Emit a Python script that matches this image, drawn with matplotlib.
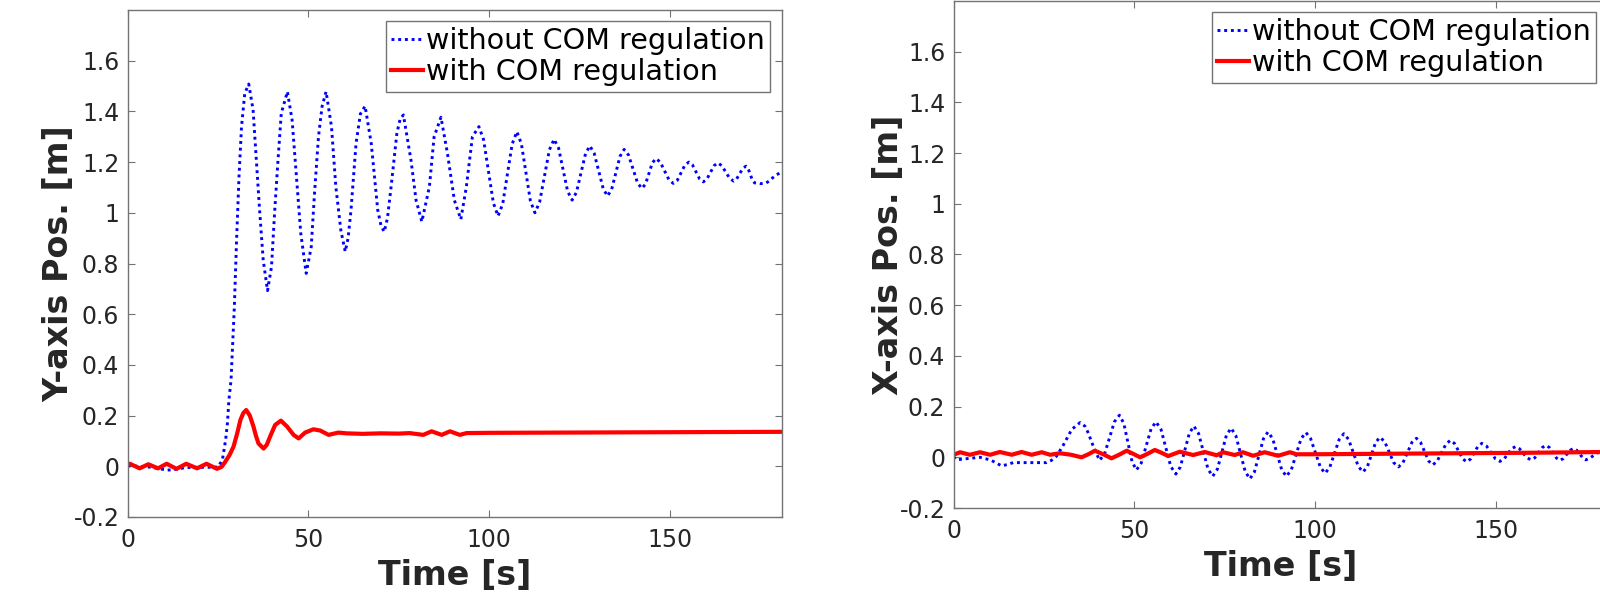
import matplotlib
matplotlib.use("Agg")
import matplotlib.pyplot as plt

plt.rcParams['font.family'] = ['DejaVu Sans']

# ---------------- data ----------------
# Left panel: Y-axis position
y_without_t = [0, 3, 6, 9, 11, 13, 16, 19, 22, 25, 26.2, 27.1, 27.6, 28.0, 28.6,
               29.5, 30.1, 30.8, 31.5, 32.4, 33.5, 34.7, 35.6, 36.5, 37.5, 38.7,
               39.8, 40.7, 41.6, 42.5, 44.2, 45.5, 46.7, 47.9, 49.4, 50.8, 51.7,
               52.8, 53.8, 54.9, 56.4, 57.6, 59.0, 60.2, 61.0, 61.8, 63.2, 64.4,
               65.7, 67.4, 69.2, 70.1, 71.0, 71.9, 72.9, 74.5, 75.4, 76.3, 78.4,
               79.8, 81.4, 83.5, 84.8, 86.7, 88.5, 90.4, 92.2, 93.7, 95.4, 97.2,
               98.5, 99.85, 101.2, 102.5, 103.8, 105.1, 106.4, 107.7, 108.95, 110.2,
               111.45, 112.7, 114.0, 115.35, 116.7, 118.0, 119.25, 120.5, 121.75,
               123.0, 124.2, 125.45, 126.7, 127.9, 129.1, 130.35, 131.6, 132.8,
               133.95, 135.1, 136.25, 137.4, 138.6, 139.85, 141.1, 142.3, 143.3,
               144.25, 145.2, 146.2, 147.4, 148.6, 149.8, 151.0, 152.1, 153.15,
               154.2, 155.3, 156.3, 157.3, 158.3, 159.3, 160.3, 161.3, 162.3, 163.3,
               164.4, 165.5, 166.6, 167.7, 168.55, 169.4, 170.25, 171.1, 171.7,
               172.3, 172.9, 173.5, 175.0, 176.5, 177.5, 178.5, 179.5, 181.0]
y_without_v = [0.002, 0.0, -0.003, -0.01, -0.015, -0.013, -0.005, -0.004, -0.004,
               -0.003, 0.025, 0.104, 0.17, 0.26, 0.341, 0.623, 0.88, 1.142, 1.34,
               1.471, 1.508, 1.406, 1.208, 1.011, 0.814, 0.693, 0.787, 1.011, 1.208,
               1.392, 1.478, 1.366, 1.142, 0.919, 0.761, 0.866, 1.077, 1.3, 1.42,
               1.478, 1.34, 1.103, 0.93, 0.847, 0.9, 1.011, 1.274, 1.39, 1.421,
               1.274, 1.011, 0.95, 0.925, 0.98, 1.103, 1.314, 1.37, 1.386, 1.208,
               1.05, 0.965, 1.103, 1.3, 1.377, 1.234, 1.05, 0.974, 1.1, 1.3, 1.34,
               1.288, 1.164, 1.039, 0.987, 1.036, 1.154, 1.271, 1.32, 1.273, 1.16,
               1.047, 1.0, 1.042, 1.145, 1.248, 1.29, 1.255, 1.17, 1.085, 1.05,
               1.081, 1.157, 1.233, 1.264, 1.235, 1.165, 1.095, 1.066, 1.093, 1.158,
               1.223, 1.25, 1.228, 1.173, 1.118, 1.096, 1.113, 1.155, 1.197, 1.214,
               1.2, 1.165, 1.13, 1.116, 1.128, 1.158, 1.188, 1.2, 1.189, 1.161,
               1.133, 1.122, 1.133, 1.16, 1.186, 1.197, 1.186, 1.161, 1.136, 1.125,
               1.134, 1.155, 1.175, 1.184, 1.175, 1.152, 1.128, 1.118, 1.115, 1.116,
               1.125, 1.138, 1.15, 1.16]

y_with_t = [0, 0.6, 3.3, 5.7, 8.4, 10.8, 13.5, 16.2, 19.2, 21.8, 24.7, 26.0, 27.0,
            28.2, 29.3, 30.3, 31.2, 32.0, 32.8, 33.8, 34.8, 35.5, 36.2, 37.6, 38.5,
            39.4, 40.8, 42.4, 44.1, 45.9, 47.3, 49.1, 51.4, 53.3, 55.6, 58.3, 60.6,
            65, 70, 75, 78, 81.8, 84.1, 86.9, 89.2, 91.9, 93.8, 100, 120, 140, 160,
            181]
y_with_v = [0.008, 0.01, -0.008, 0.008, -0.008, 0.01, -0.01, 0.01, -0.008, 0.01,
            -0.01, -0.002, 0.018, 0.045, 0.078, 0.13, 0.183, 0.21, 0.222, 0.2,
            0.157, 0.12, 0.09, 0.07, 0.085, 0.117, 0.163, 0.18, 0.157, 0.124, 0.11,
            0.133, 0.146, 0.141, 0.124, 0.133, 0.13, 0.128, 0.13, 0.129, 0.131,
            0.124, 0.138, 0.124, 0.138, 0.124, 0.131, 0.132, 0.133, 0.134, 0.135,
            0.136]

# Right panel: X-axis position
x_without_t = [0, 0.8, 2, 4.5, 7.3, 10.1, 11.5, 13.3, 15, 16.5, 19.3, 22.5, 25.7,
               27.1, 28.5, 30.4, 32.7, 35.0, 36.4, 37.3, 38.2, 39.1, 40.4, 41.8,
               43.15, 44.5, 45.9, 47.1, 48.25, 49.4, 50.6, 51.95, 53.3, 54.65, 56.0,
               57.4, 58.75, 60.1, 61.5, 62.75, 64.0, 65.25, 66.5, 67.8, 69.1, 70.4,
               71.7, 73.0, 74.25, 75.5, 76.8, 78.1, 79.4, 80.7, 82.0, 83.25, 84.5,
               85.75, 87.0, 88.3, 89.55, 90.8, 92.1, 93.45, 94.8, 96.15, 97.5, 98.8,
               100.15, 101.5, 102.8, 104.1, 105.4, 106.7, 108.0, 109.3, 110.65,
               112.0, 113.3, 114.5, 115.65, 116.8, 118.0, 119.3, 120.55, 121.8,
               123.1, 124.35, 125.6, 126.85, 128.1, 129.2, 130.35, 131.5, 132.6,
               133.8, 135.05, 136.3, 137.5, 138.6, 139.75, 140.9, 142.0, 143.05,
               144.1, 145.15, 146.2, 147.45, 148.7, 149.95, 151.2, 152.3, 153.35,
               154.4, 155.5, 156.6, 157.65, 158.7, 159.8, 160.85, 161.9, 162.95,
               164.0, 164.95, 165.9, 166.85, 167.8, 168.75, 169.7, 170.65, 171.6,
               172.45, 173.3, 174.15, 175.0, 176.0, 177.0, 178.0, 179.0, 181.0]
x_without_v = [0.002, -0.01, -0.008, -0.004, 0.0, -0.01, -0.02, -0.034, -0.028,
               -0.021, -0.021, -0.021, -0.021, -0.012, 0.005, 0.049, 0.11, 0.137,
               0.122, 0.095, 0.06, 0.029, -0.012, 0.014, 0.077, 0.14, 0.166, 0.134,
               0.058, -0.018, -0.05, -0.022, 0.045, 0.112, 0.14, 0.11, 0.037,
               -0.036, -0.066, -0.038, 0.029, 0.095, 0.123, 0.094, 0.024, -0.046,
               -0.075, -0.047, 0.02, 0.087, 0.115, 0.086, 0.015, -0.056, -0.085,
               -0.058, 0.008, 0.073, 0.1, 0.074, 0.012, -0.049, -0.075, -0.05,
               0.012, 0.073, 0.098, 0.074, 0.018, -0.039, -0.063, -0.04, 0.015,
               0.07, 0.093, 0.071, 0.018, -0.036, -0.058, -0.038, 0.011, 0.059,
               0.079, 0.062, 0.021, -0.021, -0.038, -0.022, 0.019, 0.059, 0.075,
               0.06, 0.023, -0.015, -0.03, -0.016, 0.019, 0.053, 0.067, 0.055,
               0.025, -0.006, -0.018, -0.007, 0.019, 0.044, 0.055, 0.045, 0.02,
               -0.006, -0.016, -0.008, 0.013, 0.034, 0.042, 0.034, 0.016, -0.002,
               -0.01, -0.002, 0.019, 0.039, 0.047, 0.038, 0.018, -0.003, -0.012,
               -0.005, 0.012, 0.028, 0.035, 0.028, 0.013, -0.003, -0.01, -0.004,
               0.006, 0.016, 0.024, 0.03]

x_with_t = [0, 1.8, 4.5, 7.3, 10.1, 12.8, 16.1, 18.8, 21.6, 24.4, 26.7, 29.4, 32.5,
            35.4, 37.3, 39.1, 41.4, 43.7, 45.8, 47.9, 49.8, 51.6, 53.7, 55.7, 57.5,
            59.4, 62.6, 66.3, 69.5, 72.8, 74.6, 77.8, 80.1, 82.9, 86.1, 89.8, 93.1,
            94.9, 100, 120, 140, 160, 181]
x_with_v = [0.01, 0.02, 0.01, 0.02, 0.01, 0.021, 0.01, 0.021, 0.01, 0.02, 0.01,
            0.016, 0.01, 0.0, 0.012, 0.026, 0.012, -0.004, 0.01, 0.026, 0.013, 0.0,
            0.014, 0.029, 0.018, 0.005, 0.022, 0.009, 0.021, 0.008, 0.02, 0.009,
            0.02, 0.006, 0.02, 0.006, 0.02, 0.012, 0.012, 0.014, 0.016, 0.018,
            0.021]

x_ticks = [0, 50, 100, 150]
x_ticklabels = ['0', '50', '100', '150']
y_ticks = [-0.2, 0, 0.2, 0.4, 0.6, 0.8, 1.0, 1.2, 1.4, 1.6]
y_ticklabels = ['-0.2', '0', '0.2', '0.4', '0.6', '0.8', '1', '1.2', '1.4', '1.6']
legend_labels = ['without COM regulation', 'with COM regulation']

# ---------------- figure ----------------
W, H = 1600, 597
fig = plt.figure(figsize=(W / 100, H / 100), dpi=100)

def px_axes(left, top, right, bottom):
    return fig.add_axes([left / W, 1 - bottom / H, (right - left) / W, (bottom - top) / H])

axL = px_axes(127.7, 10, 781.7, 517)
axR = px_axes(953.6, 1, 1607.6, 508)

panels = [
    (axL, y_without_t, y_without_v, y_with_t, y_with_v, 'Y-axis Pos. [m]', -0.106),
    (axR, x_without_t, x_without_v, x_with_t, x_with_v, 'X-axis Pos. [m]', -0.100),
]

for ax, tb, vb, tr, vr, ylab, ylx in panels:
    lb, = ax.plot(tb, vb, color=(0, 0, 1), linewidth=2.1, linestyle=(0, (1, 1.3)))
    lr, = ax.plot(tr, vr, color=(1, 0, 0), linewidth=3.0, linestyle='-')
    ax.set_xlim(0, 181)
    ax.set_ylim(-0.2, 1.8)
    ax.set_xticks(x_ticks)
    ax.set_xticklabels(x_ticklabels)
    ax.set_yticks(y_ticks)
    ax.set_yticklabels(y_ticklabels)
    ax.tick_params(axis='both', which='both', direction='in', length=5, width=0.8,
                   color='0.45', labelcolor='0.15', labelsize=17,
                   top=True, right=True)
    ax.tick_params(axis='x', pad=8)
    ax.tick_params(axis='y', pad=6)
    for s in ax.spines.values():
        s.set_color('0.45')
        s.set_linewidth(1.0)
    ax.set_ylabel(ylab, fontsize=24, fontweight='bold', color='0.15')
    ax.yaxis.set_label_coords(ylx, 0.5)
    ax.set_xlabel('Time [s]', fontsize=24, fontweight='bold', color='0.15')
    ax.xaxis.set_label_coords(0.5, -0.115)
    ax.xaxis.label.set_va('center')
    ax.yaxis.label.set_va('center')
    leg = ax.legend([lb, lr], legend_labels, loc='upper right', fontsize=20.6,
                    frameon=True, fancybox=False, framealpha=1, edgecolor='0.45',
                    handlelength=1.1, handletextpad=0.1, borderpad=0.2,
                    labelspacing=0.1, borderaxespad=0.4)
    leg.get_frame().set_linewidth(1.0)

fig.savefig('out.png', dpi=100)
